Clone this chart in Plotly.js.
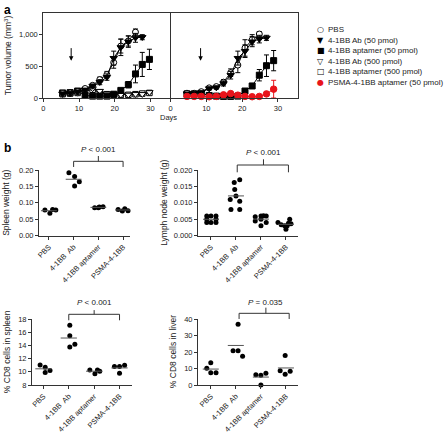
<!DOCTYPE html>
<html>
<head>
<meta charset="utf-8">
<script src="https://cdn.plot.ly/plotly-3.0.1.min.js"></script>
<style>html,body{margin:0;padding:0;background:#fff;}#chart{width:445px;height:433px;}</style>
</head>
<body>
<div id="chart"></div>
<script>
// ---------- Panel a data (tumor volume, mm^3) ----------
const daysLeft  = [5.4, 7.5, 9.6, 11.7, 13.8, 15.8, 17.8, 19.7, 21.7, 23.8, 25.8, 27.7, 29.7];
const daysRight = [4.6, 6.6, 8.6, 10.8, 12.8, 14.8, 16.8, 18.8, 20.8, 22.8, 24.8, 26.8, 28.8];

const pbsLeft      = [70, 80, 100, 150, 200, 290, 370, 560, 820, 900, 1040, null, null];
const pbsLeftErr   = [10, 10, 15, 20, 30, 40, 50, 90, 110, 80, 50, 0, 0];
const ab50Left     = [70, 80, 100, 130, 190, 250, 330, 630, 800, 890, 950, 960, null];
const ab50LeftErr  = [10, 10, 15, 20, 30, 40, 50, 110, 130, 90, 70, 40, 0];
const apt50Left    = [80, 85, 110, 40, 30, 30, 30, 60, 120, 210, 380, 530, 610];
const apt50LeftErr = [10, 10, 15, 10, 10, 10, 10, 15, 30, 50, 140, 190, 160];
const ab500Left    = [60, 70, 80, 130, 150, 110, 70, 50, 50, 50, 60, 60, 90];
const ab500LeftErr = [10, 10, 10, 15, 20, 15, 10, 10, 10, 10, 10, 10, 15];
const apt500Left   = [60, 70, 80, 110, 130, 90, 60, 50, 50, 50, 60, 70, 80];
const apt500LeftErr= [10, 10, 10, 15, 20, 15, 10, 10, 10, 10, 10, 10, 15];

const pbsRight      = [75, 75, 100, 160, 180, 250, 400, 520, 790, 920, 1010, null, null];
const pbsRightErr   = [10, 10, 15, 20, 25, 40, 60, 120, 130, 80, 40, 0, 0];
const ab50Right     = [70, 75, 90, 150, 165, 230, 360, 630, 740, 890, 930, 950, null];
const ab50RightErr  = [10, 10, 15, 20, 25, 40, 60, 110, 100, 80, 60, 40, 0];
const apt50Right    = [65, 65, 75, 40, 30, 25, 25, 30, 110, 190, 360, 510, 590];
const apt50RightErr = [10, 10, 10, 10, 10, 10, 10, 10, 20, 40, 90, 170, 160];
const psmaRight     = [25, 25, 25, 20, 25, 50, 70, 45, 25, 20, 25, 65, 140];
const psmaRightErr  = [5, 5, 5, 5, 5, 15, 25, 15, 5, 5, 10, 30, 140];

const treatmentDay = [7.8, 8.4];
const legendLabels = ['PBS', '4-1BB Ab (50 pmol)', '4-1BB aptamer (50 pmol)', '4-1BB Ab (500 pmol)', '4-1BB aptamer (500 pmol)', 'PSMA-4-1BB aptamer (50 pmol)'];

// ---------- Panel b data ----------
const groupLabels = ['PBS', '4-1BB\u00a0 Ab', '4-1BB aptamer', 'PSMA-4-1BB'];

const spleenWeight = [
  [0.078, 0.068, 0.080, 0.078],
  [0.192, 0.180, 0.164, 0.151],
  [0.085, 0.087, 0.088, 0.085],
  [0.080, 0.075, 0.082, 0.076]
];
const spleenJitter = [[-0.16, 0.04, 0.15, 0.28], [-0.19, 0.04, 0.23, 0.04], [-0.15, 0.04, 0.19, 0.0], [-0.2, -0.03, 0.07, 0.2]];

const lymphWeight = [
  [0.006, 0.006, 0.006, 0.005, 0.005, 0.004, 0.004, 0.004],
  [0.017, 0.0162, 0.0141, 0.0121, 0.011, 0.0105, 0.008, 0.008],
  [0.0058, 0.006, 0.0061, 0.006, 0.0045, 0.005, 0.004, 0.003],
  [0.004, 0.0033, 0.003, 0.002, 0.005, 0.0038, 0.0036, 0.003]
];
const lymphJitter = [
  [-0.17, 0, 0.2, -0.17, 0.2, -0.17, 0, 0.2],
  [0.15, -0.07, -0.05, 0, -0.23, 0.15, -0.2, 0.15],
  [-0.23, 0, 0.1, 0.21, -0.23, 0, 0.21, 0],
  [-0.32, -0.19, -0.05, 0, 0.15, 0.1, 0.2, 0.05]
];

const cd8Spleen = [
  [11.05, 10.7, 9.9, 10.2],
  [17.1, 15.5, 13.8, 14.2],
  [10.3, 9.7, 10.3, 10.1],
  [10.8, 10.8, 9.8, 11.0]
];
const cd8SpleenJitter = [[-0.13, 0.07, 0.07, 0.26], [0.04, 0.04, 0.04, 0.24], [-0.17, 0.03, 0.13, 0.22], [-0.2, 0, 0, 0.2]];

const cd8Liver = [
  [10.2, 13.6, 7.5, 7.5],
  [37, 20.9, 20.9, 17.5],
  [6.3, 5.9, 7.1, 0],
  [18, 8.7, 6.5, 8.3]
];
const cd8LiverJitter = [[-0.16, 0, 0, 0.21], [0.09, -0.11, 0.09, 0.27], [-0.2, 0, 0.2, 0], [-0.03, -0.23, -0.03, 0.17]];

const pLabels = ['<i>P</i> &lt; 0.001', '<i>P</i> &lt; 0.001', '<i>P</i> &lt; 0.001', '<i>P</i> = 0.035'];

// ---------- build ----------
const FONT = '"Liberation Sans", Arial, Helvetica, sans-serif';
const W = 445, H = 433;
const px = v => v / W;
const py = v => 1 - v / H;

const traces = [];
function errTrace(x, y, err, xa, ya, marker, name) {
  traces.push({
    type: 'scatter', mode: 'lines+markers', x: x, y: y, xaxis: xa, yaxis: ya, name: name,
    showlegend: false, cliponaxis: false, connectgaps: false,
    line: {color: marker.lineColor || '#000', width: 1},
    marker: {symbol: marker.symbol, size: marker.size || 6, color: marker.color,
             line: {color: marker.lineColor || '#000', width: 1}},
    error_y: {type: 'data', array: err, visible: true, color: marker.lineColor || '#000', thickness: 1, width: 2.5}
  });
}
// left panel a
errTrace(daysLeft, apt500Left, apt500LeftErr, 'x', 'y', {symbol: 'square', color: '#fff', size: 5.5}, legendLabels[4]);
errTrace(daysLeft, ab500Left, ab500LeftErr, 'x', 'y', {symbol: 'triangle-down', color: '#fff', size: 6.5}, legendLabels[3]);
errTrace(daysLeft, apt50Left, apt50LeftErr, 'x', 'y', {symbol: 'square', color: '#000', size: 6}, legendLabels[2]);
errTrace(daysLeft, pbsLeft, pbsLeftErr, 'x', 'y', {symbol: 'circle', color: '#fff', size: 6}, legendLabels[0]);
errTrace(daysLeft, ab50Left, ab50LeftErr, 'x', 'y', {symbol: 'triangle-down', color: '#000', size: 6.5}, legendLabels[1]);
// right panel a
errTrace(daysRight, apt50Right, apt50RightErr, 'x2', 'y2', {symbol: 'square', color: '#000', size: 6}, legendLabels[2]);
errTrace(daysRight, pbsRight, pbsRightErr, 'x2', 'y2', {symbol: 'circle', color: '#fff', size: 6}, legendLabels[0]);
errTrace(daysRight, ab50Right, ab50RightErr, 'x2', 'y2', {symbol: 'triangle-down', color: '#000', size: 6.5}, legendLabels[1]);
errTrace(daysRight, psmaRight, psmaRightErr, 'x2', 'y2', {symbol: 'circle', color: '#e8141b', lineColor: '#e8141b', size: 6.5}, legendLabels[5]);

// panel b dot plots
const mean = a => a.reduce((s, v) => s + v, 0) / a.length;
function dotPanel(groups, jitter, xa, ya) {
  groups.forEach((vals, i) => {
    traces.push({
      type: 'scatter', mode: 'markers', xaxis: xa, yaxis: ya, showlegend: false, cliponaxis: false,
      x: vals.map((v, k) => i + jitter[i][k]), y: vals,
      marker: {color: '#000', size: 5}
    });
    const m = mean(vals);
    traces.push({
      type: 'scatter', mode: 'lines', xaxis: xa, yaxis: ya, showlegend: false, cliponaxis: false,
      x: [i - 0.32, i + 0.32], y: [m, m], line: {color: '#555', width: 1}
    });
  });
}
dotPanel(spleenWeight, spleenJitter, 'x3', 'y3');
dotPanel(lymphWeight, lymphJitter, 'x4', 'y4');
dotPanel(cd8Spleen, cd8SpleenJitter, 'x5', 'y5');
dotPanel(cd8Liver, cd8LiverJitter, 'x6', 'y6');

const tickFont = {family: FONT, size: 7.5, color: '#222'};
function baseAxis(extra) {
  return Object.assign({
    showgrid: false, zeroline: false, showline: true, linecolor: '#333', linewidth: 1,
    ticks: 'outside', ticklen: 3, tickwidth: 1, tickcolor: '#333', tickfont: tickFont, fixedrange: true
  }, extra);
}
const catAxis = (dom, rng, anchor) => baseAxis({domain: dom, range: rng, anchor: anchor,
  tickvals: [0, 1, 2, 3], ticktext: groupLabels, tickangle: -45});

const layout = {
  width: W, height: H, margin: {l: 0, r: 0, t: 0, b: 0},
  paper_bgcolor: '#fff', plot_bgcolor: 'rgba(0,0,0,0)', showlegend: false,
  font: {family: FONT, size: 8, color: '#222'},
  xaxis: baseAxis({domain: [px(43.3), px(170.5)], range: [0, 35.6], anchor: 'y', mirror: true, tickvals: [0, 10, 20, 30]}),
  yaxis: baseAxis({domain: [py(98), py(12.5)], range: [0, 1350], anchor: 'x', mirror: false, tickvals: [0, 500, 1000], tickformat: ','}),
  xaxis2: baseAxis({domain: [px(170.5), px(298)], range: [0, 35.6], anchor: 'y2', mirror: true, tickvals: [0, 10, 20, 30]}),
  yaxis2: baseAxis({domain: [py(98), py(12.5)], range: [0, 1350], anchor: 'x2', mirror: true, ticks: '', showticklabels: false}),
  xaxis3: catAxis([px(39), px(130)], [-0.4, 3.28], 'y3'),
  yaxis3: baseAxis({domain: [py(235.7), py(170)], range: [0, 0.2], anchor: 'x3', tickvals: [0, 0.05, 0.1, 0.15, 0.2], tickformat: '.2f'}),
  xaxis4: catAxis([px(198), px(297.7)], [-0.52, 3.47], 'y4'),
  yaxis4: baseAxis({domain: [py(235.7), py(170)], range: [0, 0.02], anchor: 'x4', tickvals: [0, 0.005, 0.01, 0.015, 0.02], tickformat: '.3f'}),
  xaxis5: catAxis([px(32), px(131.7)], [-0.45, 3.48], 'y5'),
  yaxis5: baseAxis({domain: [py(385), py(319.3)], range: [8, 18], anchor: 'x5', tickvals: [8, 10, 12, 14, 16, 18]}),
  xaxis6: catAxis([px(198), px(297.7)], [-0.51, 3.47], 'y6'),
  yaxis6: baseAxis({domain: [py(385), py(319.3)], range: [0, 40], anchor: 'x6', tickvals: [0, 10, 20, 30, 40]}),
  shapes: [], annotations: []
};

// axis titles and panel letters
const ann = layout.annotations;
const titleFont = {family: FONT, size: 8.5, color: '#222'};
function yTitle(text, xpx, yref) {
  ann.push({text: text, xref: 'paper', x: px(xpx), yref: yref, y: 0.5, textangle: -90,
            showarrow: false, xanchor: 'center', yanchor: 'middle', font: titleFont});
}
yTitle('Tumor volume (mm<sup>3</sup>)', 8, 'y domain');
yTitle('Spleen weight (g)', 6, 'y3 domain');
yTitle('Lymph node weight (g)', 164, 'y4 domain');
yTitle('% CD8 cells in spleen', 7, 'y5 domain');
yTitle('% CD8 cells in liver', 173, 'y6 domain');
ann.push({text: 'Days', xref: 'paper', yref: 'paper', x: px(168), y: py(117), showarrow: false,
          xanchor: 'center', yanchor: 'middle', font: {family: FONT, size: 7.5, color: '#222'}});
ann.push({text: '<b>a</b>', xref: 'paper', yref: 'paper', x: px(2), y: py(10), showarrow: false,
          xanchor: 'left', yanchor: 'middle', font: {family: FONT, size: 12, color: '#000'}});
ann.push({text: '<b>b</b>', xref: 'paper', yref: 'paper', x: px(2), y: py(148), showarrow: false,
          xanchor: 'left', yanchor: 'middle', font: {family: FONT, size: 12, color: '#000'}});

// treatment arrows
[['x', 'y'], ['x2', 'y2']].forEach((r, i) => {
  ann.push({text: '', xref: r[0], yref: r[1], x: treatmentDay[i], y: 590, ax: 0, ay: -14,
            showarrow: true, arrowhead: 2, arrowsize: 0.9, arrowwidth: 1, arrowcolor: '#000', standoff: 0, startstandoff: 0});
});

// legend (symbols + labels)
const legendSymbols = ['\u25CB', '\u25BC', '\u25A0', '\u25BD', '\u25A1', '\u25CF'];
const legendColors = ['#000', '#000', '#000', '#000', '#000', '#e8141b'];
legendLabels.forEach((lab, i) => {
  const yy = 29.5 + i * 10.6;
  ann.push({text: legendSymbols[i], xref: 'paper', yref: 'paper', x: px(320.5), y: py(yy), showarrow: false,
            xanchor: 'center', yanchor: 'middle', font: {family: 'DejaVu Sans', size: 8, color: legendColors[i]}});
  ann.push({text: lab, xref: 'paper', yref: 'paper', x: px(326), y: py(yy), showarrow: false,
            xanchor: 'left', yanchor: 'middle', font: {family: FONT, size: 8, color: '#222'}});
});

// significance brackets
const brackets = [
  {xa: 'x3', ya: 'y3 domain', x0: 1, x1: 3, xc: 2, line: 1.132, foot: 1.046, top: 1.213, text: 1.31, label: pLabels[0]},
  {xa: 'x4', ya: 'y4 domain', x0: 1.05, x1: 3.1, xc: 2.1, line: 1.076, foot: 0.965, top: 1.163, text: 1.27, label: pLabels[1]},
  {xa: 'x5', ya: 'y5 domain', x0: 1, x1: 3, xc: 2, line: 1.076, foot: 0.985, top: 1.14, text: 1.26, label: pLabels[2]},
  {xa: 'x6', ya: 'y6 domain', x0: 1.13, x1: 3.13, xc: 2.2, line: 1.091, foot: 1.005, top: 1.177, text: 1.26, label: pLabels[3]}
];
brackets.forEach(b => {
  const ln = {color: '#333', width: 1};
  layout.shapes.push({type: 'line', xref: b.xa, yref: b.ya, x0: b.x0, x1: b.x1, y0: b.line, y1: b.line, line: ln});
  layout.shapes.push({type: 'line', xref: b.xa, yref: b.ya, x0: b.x0, x1: b.x0, y0: b.line, y1: b.foot, line: ln});
  layout.shapes.push({type: 'line', xref: b.xa, yref: b.ya, x0: b.x1, x1: b.x1, y0: b.line, y1: b.foot, line: ln});
  layout.shapes.push({type: 'line', xref: b.xa, yref: b.ya, x0: b.xc, x1: b.xc, y0: b.line, y1: b.top, line: ln});
  ann.push({text: b.label, xref: b.xa, yref: b.ya, x: b.xc, y: b.text, showarrow: false,
            xanchor: 'center', yanchor: 'middle', font: {family: FONT, size: 8, color: '#222'}});
});

Plotly.newPlot('chart', traces, layout, {staticPlot: true, displayModeBar: false});
</script>
</body>
</html>
